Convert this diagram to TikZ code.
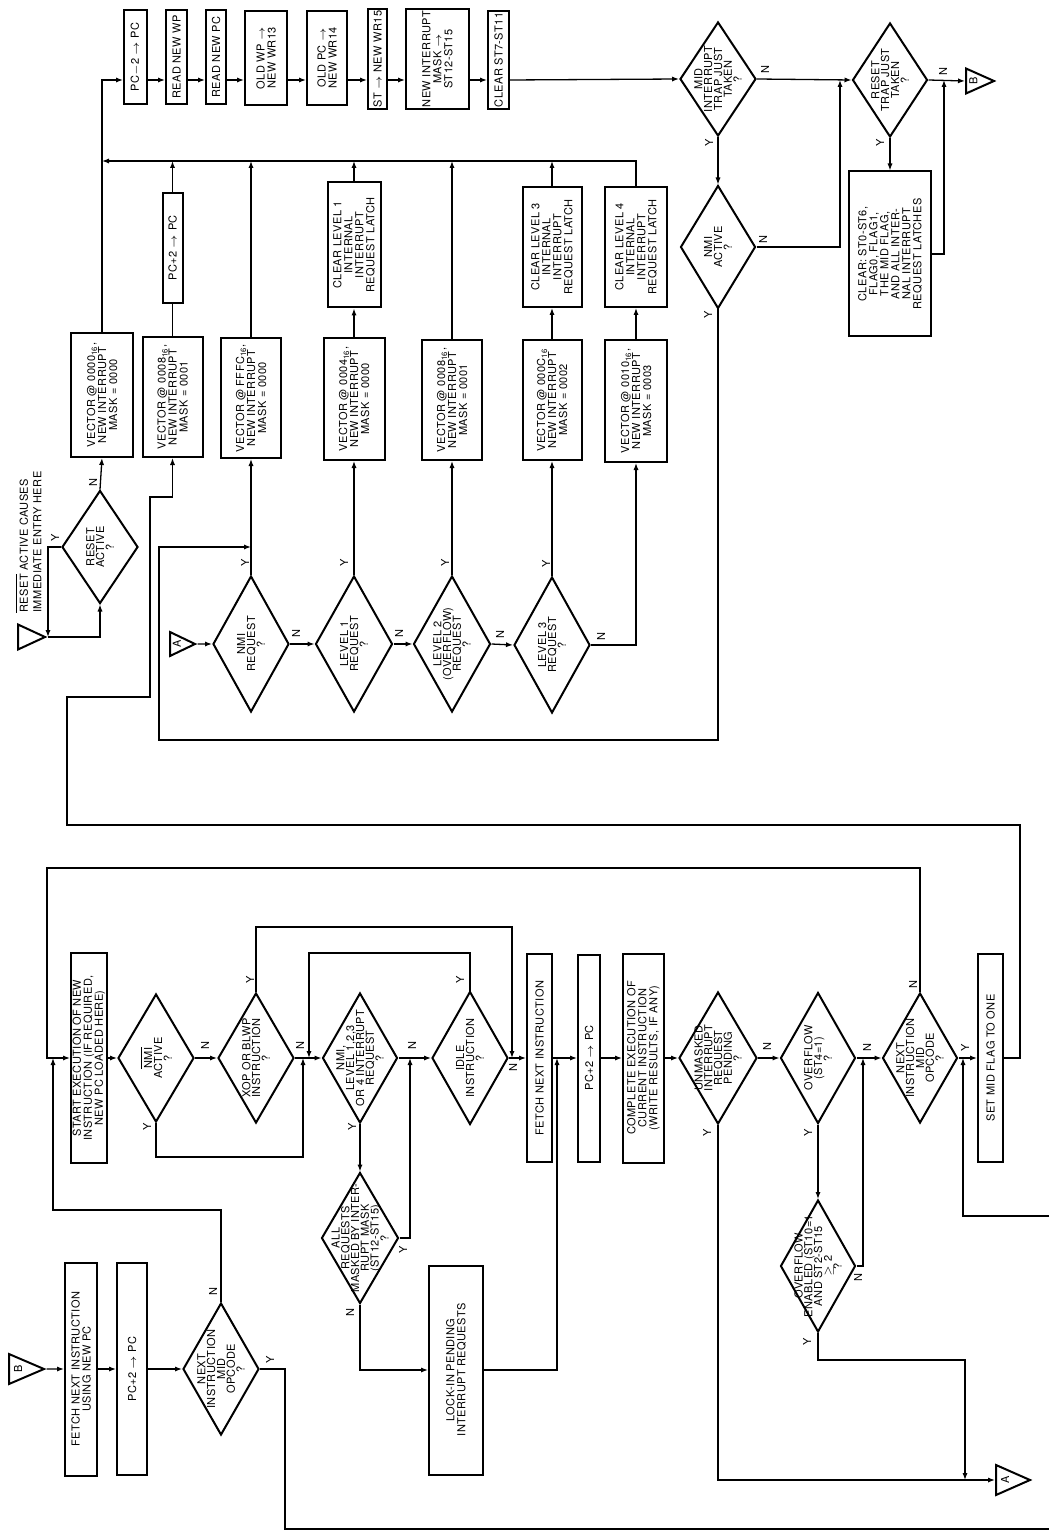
\documentclass[tikz,border=0pt]{standalone}
\usepackage{fontspec}
\setmainfont{TeX Gyre Heros}[LetterSpace=4]
\usepackage{graphicx}
\usetikzlibrary{shapes.geometric,arrows.meta}
\newcommand\myft{\fontsize{5.5}{5.5}\selectfont\lineskiplimit=-6pt\lineskip=0pt}
\newcommand\dtx[1]{\makebox[0pt]{\vbox{\baselineskip=4.9pt\lineskiplimit=-6pt\lineskip=0pt\let\\\cr\halign{\hfil##\hfil\cr#1\crcr}}}}
\newcommand\sxvi{\textsubscript{16}}
\newcommand\rarr{$\rightarrow$}
\tikzset{
  bx/.style 2 args={draw, line width=1pt, rotate=90, minimum width=#1*0.5pt, minimum height=#2*0.5pt, inner sep=0.8pt, align=center, font=\myft},
  dm/.style 2 args={draw, diamond, line width=1pt, rotate=90, minimum width=#1*0.5pt, minimum height=#2*0.5pt, inner sep=0pt, font=\myft},
  tri/.style 2 args={draw, line width=1pt, isosceles triangle, isosceles triangle stretches, minimum height=#1*0.5pt, minimum width=#2*0.5pt, inner sep=0pt, font=\myft, anchor=west},
  ln/.style={line width=0.65pt},
  ar/.style={line width=0.65pt, -{Latex[length=3.5pt,width=2.6pt]}},
  yn/.style={font=\myft, rotate=90, inner sep=0pt},
}
\begin{document}
\begin{tikzpicture}[x=0.5pt,y=-0.5pt]
\useasboundingbox (0,0) rectangle (1049,1540);
% ---------------- top row
\node[bx={94}{23}] (pcm) at (135.5,57) {PC$-$2 \rarr{} PC};
\node[bx={94}{21}] (rwp) at (176.5,57) {READ NEW WP};
\node[bx={94}{20}] (rpc) at (216,57) {READ NEW PC};
\node[bx={94}{42}] (owp) at (266,58) {OLD WP \rarr\\NEW WR13};
\node[bx={94}{40}] (opc) at (327,58) {OLD PC \rarr\\NEW WR14};
\node[bx={94}{19}] (stw) at (377.5,59) {ST \rarr{} NEW WR15};
\node[bx={96}{63}] (nim) at (437.5,59) {NEW INTERRUPT\\MASK \rarr\\ST12-ST15};
\node[bx={94}{21}] (c711) at (498.5,60) {CLEAR ST7-ST11};
% ---------------- top right
\node[dm={114}{76}] (mid) at (718,79) {\dtx{MID\\INTERRUPT\\TRAP JUST\\TAKEN\\?}};
\node[dm={123}{75}] (nac) at (718,247) {\dtx{NMI\\ACTIVE\\?}};
\node[dm={114}{75}] (rtr) at (890,80) {\dtx{RESET\\TRAP JUST\\TAKEN\\?}};
\node[bx={165}{82}] (clall) at (890,254) {CLEAR: ST0-ST6,\\FLAG0, FLAG1,\\THE MID FLAG,\\AND ALL INTER-\\NAL INTERRUPT\\REQUEST LATCHES};
\node[tri={28}{25}] (tbt) at (965,81) {\rotatebox{90}{B}};
% ---------------- vectors
\node[bx={124}{62}] (v0) at (102,395) {VECTOR @ 0000\sxvi,\\NEW INTERRUPT\\MASK = 0000};
\node[bx={110}{20}] (pcp) at (172.5,248) {PC+2 \rarr{} PC};
\node[bx={120}{60}] (v1) at (172.5,397) {VECTOR @ 0008\sxvi,\\NEW INTERRUPT\\MASK = 0001};
\node[bx={120}{60}] (v2) at (251,398) {VECTOR @ FFFC\sxvi,\\NEW INTERRUPT\\MASK = 0000};
\node[bx={125}{53}] (cl1) at (354,245) {CLEAR LEVEL 1\\INTERNAL\\INTERRUPT\\REQUEST LATCH};
\node[bx={122}{61}] (v3) at (354,399) {VECTOR @ 0004\sxvi,\\NEW INTERRUPT\\MASK = 0000};
\node[bx={120}{60}] (v4) at (452,400) {VECTOR @ 0008\sxvi,\\NEW INTERRUPT\\MASK = 0001};
\node[bx={120}{59}] (cl3) at (552,247) {CLEAR LEVEL 3\\INTERNAL\\INTERRUPT\\REQUEST LATCH};
\node[bx={120}{59}] (v5) at (552,400) {VECTOR @ 000C\sxvi\\NEW INTERRUPT\\MASK = 0002};
\node[bx={120}{62}] (cl4) at (636,247) {CLEAR LEVEL 4\\INTERNAL\\INTERRUPT\\REQUEST LATCH};
\node[bx={122}{62}] (v6) at (636,401) {VECTOR @ 0010\sxvi,\\NEW INTERRUPT\\MASK = 0003};
% ---------------- request diamonds
\node[dm={136}{76}] (nrq) at (251,644) {\dtx{NMI\\REQUEST\\?}};
\node[dm={136}{77}] (l1) at (354,644) {\dtx{LEVEL 1\\REQUEST\\?}};
\node[dm={136}{77}] (l2) at (452,644) {\dtx{LEVEL 2\\(OVERFLOW)\\REQUEST\\?}};
\node[dm={136}{76}] (l3) at (552,645) {\dtx{LEVEL 3\\REQUEST\\?}};
\node[tri={25}{24}] (tat) at (169,644) {\rotatebox{90}{A}};
% ---------------- reset
\node[dm={113}{76}] (rac) at (100,547) {\dtx{RESET\\ACTIVE\\?}};
\node[tri={27}{25}] (trr) at (17,637) {};
\node[yn, anchor=west, align=left] (note) at (28.5,613) {$\overline{\mbox{RESET}}$ ACTIVE CAUSES\\[1.2pt]IMMEDIATE ENTRY HERE};
% ---------------- lower row
\node[bx={210}{36}] (st) at (89,1058) {START EXECUTION OF NEW\\INSTRUCTION (IF REQUIRED,\\NEW PC LOADED HERE)};
\node[dm={128}{76}] (nac2) at (156,1058) {\dtx{$\overline{\mbox{NMI}}$\\ACTIVE\\?}};
\node[dm={130}{76}] (xop) at (256,1058) {\dtx{XOP OR BLWP\\INSTRUCTION\\?}};
\node[dm={130}{75}] (nlv) at (360,1058) {\dtx{NMI,\\LEVEL 1,2,3\\OR 4 INTERRUPT\\REQUEST\\?}};
\node[dm={133}{76}] (idl) at (470,1058) {\dtx{IDLE\\INSTRUCTION\\?}};
\node[bx={208}{25}] (fni) at (539.5,1058) {FETCH NEXT INSTRUCTION};
\node[bx={207}{22}] (pcm2) at (589,1058) {PC+2 \rarr{} PC};
\node[bx={209}{41}] (cex) at (643.5,1058) {COMPLETE EXECUTION OF\\CURRENT INSTRUCTION\\(WRITE RESULTS, IF ANY)};
\node[dm={132}{78}] (unm) at (718,1058) {\dtx{UNMASKED\\INTERRUPT\\REQUEST\\PENDING\\?}};
\node[dm={131}{75}] (ovf) at (818,1058) {\dtx{OVERFLOW\\(ST4=1)\\?}};
\node[dm={130}{75}] (nx2) at (920,1058) {\dtx{NEXT\\INSTRUCTION\\MID\\OPCODE\\?}};
\node[bx={208}{25}] (smf) at (990.5,1058) {SET MID FLAG TO ONE};
\node[dm={132}{75}] (ove) at (818,1266) {\dtx{OVERFLOW\\ENABLED (ST10=1\\AND ST2-ST15\\$\geq$ 2\\?}};
\node[dm={131}{77}] (alr) at (360,1238) {\dtx{ALL\\REQUESTS\\MASKED BY INTER-\\RUPT MASK\\(ST12-ST15)\\?}};
\node[bx={209}{54}] (lck) at (456,1370) {LOCK-IN PENDING\\INTERRUPT REQUESTS};
\node[bx={213}{32}] (fnp) at (81,1369) {FETCH NEXT INSTRUCTION\\USING NEW PC};
\node[bx={212}{30}] (pcl) at (132,1369) {PC+2 \rarr{} PC};
\node[dm={132}{76}] (nx1) at (221,1369) {\dtx{NEXT\\INSTRUCTION\\MID\\OPCODE\\?}};
\node[tri={35}{30}] (tbl) at (8,1369) {\rotatebox{90}{B}};
\node[tri={34}{30}] (tar) at (995,1480) {\rotatebox{90}{A}};
\coordinate (eb) at (1049,1529);
\coordinate (er) at (1049,1216);
% ---------------- connectors: top
\draw[ar] (v0.east) |- (pcm.north |- 0,80);
\draw[ar] (pcm.south |- 0,80) -- (rwp.north |- 0,80);
\draw[ar] (rwp.south |- 0,80) -- (rpc.north |- 0,80);
\draw[ar] (rpc.south |- 0,80) -- (owp.north |- 0,80);
\draw[ar] (owp.south |- 0,80) -- (opc.north |- 0,80);
\draw[ar] (opc.south |- 0,80) -- (stw.north |- 0,80);
\draw[ar] (stw.south |- 0,80) -- (nim.north |- 0,80);
\draw[ar] (nim.south |- 0,80) -- (c711.north |- 0,80);
\draw[ar] (c711.south |- 0,80) -- (mid.north);
\draw[ar] (mid.south) -- (rtr.north);
\draw[ar] (mid.west) -- (nac.east);
\draw[ar] (nac.south) -| (840,80);
\draw[ar] (rtr.south) -- (tbt.west);
\draw[ar] (rtr.west) -- (clall.east);
\draw[ar] (clall.south) -| (944,80);
\draw[ar] (nac.west) |- (159,740) |- (nrq.east |- 0,547);
% bus
\draw[ar] (cl4.east) |- (v0.east |- 0,161);
\draw[ln] (v1.east) -- (pcp.west);
\draw[ar] (pcp.east) -- (pcp.east |- 0,161);
\draw[ar] (v2.east) -- (v2.east |- 0,161);
\draw[ar] (v3.east) -- (cl1.west);
\draw[ar] (cl1.east) -- (cl1.east |- 0,161);
\draw[ar] (v4.east) -- (v4.east |- 0,161);
\draw[ar] (v5.east) -- (cl3.west);
\draw[ar] (cl3.east) -- (cl3.east |- 0,161);
\draw[ar] (v6.east) -- (cl4.west);
% requests
\draw[ar] (tat.east) -- (nrq.north);
\draw[ar] (nrq.south) -- (l1.north);
\draw[ar] (l1.south) -- (l2.north);
\draw[ar] (l2.south) -- (l3.north);
\draw[ar] (nrq.east) -- (v2.west);
\draw[ar] (l1.east) -- (v3.west);
\draw[ar] (l2.east) -- (v4.west);
\draw[ar] (l3.east) -- (v5.west);
\draw[ar] (l3.south) -| (v6.west);
% reset
\draw[ar] (trr.east) -| (rac.west);
\draw[ar] (rac.north) -| (48,637);
\draw[ar] (rac.east) -- (v0.west);
% ---------------- connectors: lower
\draw[ar] (nx2.east) |- (47,868) |- (st.north);
\draw[ar] (nx1.east) |- (53,1210) -- (53,1058);
\draw[ar] (st.south) -- (nac2.north);
\draw[ar] (nac2.south) -- (xop.north);
\draw[ar] (nac2.west) |- (303,1157) -- (303,1058);
\draw[ar] (xop.south) -- (nlv.north);
\draw[ar] (xop.east) |- (512,927) -- (512,1058);
\draw[ar] (nlv.south) -- (idl.north);
\draw[ar] (nlv.west) -- (alr.east);
\draw[ar] (idl.east) |- (309,953) -- (309,1058);
\draw[ar] (idl.south) -- (fni.north);
\draw[ar] (alr.south) -| (410,1058);
\draw[ar] (alr.west) |- (lck.north);
\draw[ar] (lck.south) -| (557,1058);
\draw[ar] (fni.south) -- (pcm2.north);
\draw[ar] (pcm2.south) -- (cex.north);
\draw[ar] (cex.south) -- (unm.north);
\draw[ar] (unm.south) -- (ovf.north);
\draw[ar] (unm.west) |- (tar.west);
\draw[ar] (ovf.south) -- (nx2.north);
\draw[ar] (ovf.west) -- (ove.east);
\draw[ar] (ove.south) -| (863,1058);
\draw[ar] (ove.west) |- (965,1360) -- (965,1480);
\draw[ar] (nx2.south) -- (smf.north);
\draw[ar] (smf.south) -| (1020,825) -| (67,697) -| (150,497) -| (v1.west);
\draw[ln] (nx1.south) -| (285,1529) -- (eb);
\draw[ar] (er) -| (963,1058);
\draw[ar] (tbl.east) -- (fnp.north);
\draw[ar] (fnp.south) -- (pcl.north);
\draw[ar] (pcl.south) -- (nx1.north);
% ---------------- Y / N labels
\node[yn] (a1) at (93,483) {N};
\node[yn] (a2) at (55,538) {Y};
\node[yn] (a3) at (765,70) {N};
\node[yn] (a4) at (709,143) {Y};
\node[yn] (a5) at (763,240) {N};
\node[yn] (a6) at (708,315) {Y};
\node[yn] (a7) at (943,72) {N};
\node[yn] (a8) at (880,143) {Y};
\node[yn] (a9) at (245,563) {Y};
\node[yn] (a10) at (296,634) {N};
\node[yn] (a11) at (344,563) {Y};
\node[yn] (a12) at (399,634) {N};
\node[yn] (a13) at (445,563) {Y};
\node[yn] (a14) at (500,635) {N};
\node[yn] (a15) at (546,564) {Y};
\node[yn] (a16) at (601,637) {N};
\node[yn] (b1) at (205,1046) {N};
\node[yn] (b2) at (147,1127) {Y};
\node[yn] (b3) at (300,1046) {N};
\node[yn] (b4) at (250,980) {Y};
\node[yn] (b5) at (412,1046) {N};
\node[yn] (b6) at (352,1127) {Y};
\node[yn] (b7) at (460,980) {Y};
\node[yn] (b8) at (513,1068) {N};
\node[yn] (b9) at (403,1250) {Y};
\node[yn] (b10) at (350,1313) {N};
\node[yn] (b11) at (767,1047) {N};
\node[yn] (b12) at (707,1133) {Y};
\node[yn] (b13) at (867,1048) {N};
\node[yn] (b14) at (808,1133) {Y};
\node[yn] (b15) at (913,985) {N};
\node[yn] (b16) at (965,1048) {Y};
\node[yn] (b17) at (858,1278) {N};
\node[yn] (b18) at (807,1342) {Y};
\node[yn] (b19) at (213,1292) {N};
\node[yn] (b20) at (270,1360) {Y};
\end{tikzpicture}
\end{document}
